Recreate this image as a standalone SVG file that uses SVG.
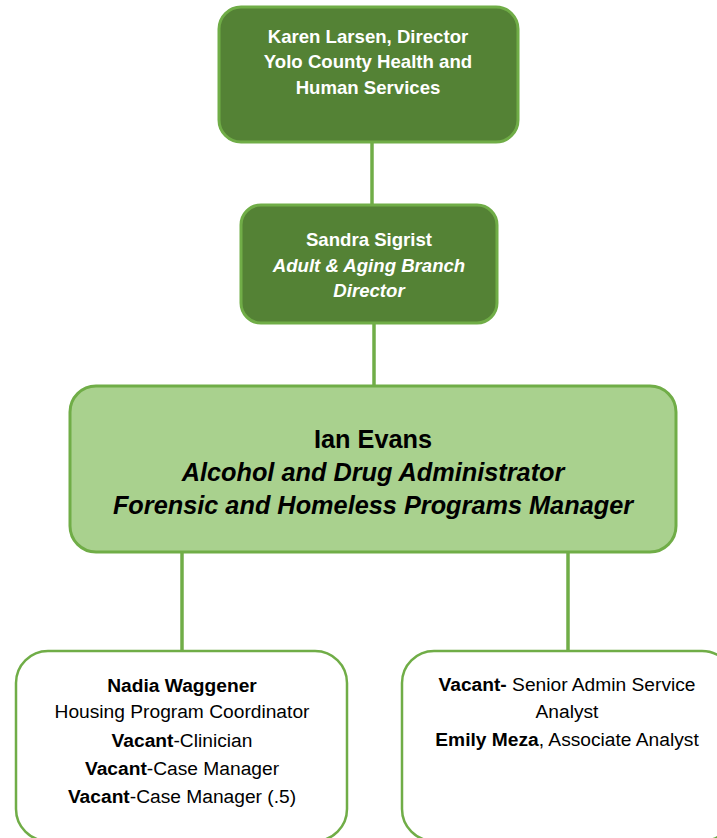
<svg xmlns="http://www.w3.org/2000/svg" width="717" height="838" viewBox="0 0 717 838">
<style>
.dark{fill:#548235;stroke:#70AD47;stroke-width:3}
.light{fill:#A9D18E;stroke:#70AD47;stroke-width:3}
.white{fill:#FFFFFF;stroke:#70AD47;stroke-width:2.5}
.conn{stroke:#70AD47;stroke-width:3.5;fill:none}
text{font-family:"Liberation Sans",Arial,sans-serif;text-anchor:middle}
.wt{fill:#FFFFFF;font-weight:bold;font-size:18.6px}
.bt{fill:#000000;font-weight:bold;font-style:italic;font-size:25.3px}
.st{fill:#000000;font-size:19.2px}
.b{font-weight:bold}
.i{font-style:italic}
.n{font-style:normal}
</style>
<rect width="717" height="838" fill="#FFFFFF"/>
<g id="connectors">
<line class="conn" x1="372" y1="142" x2="372" y2="206"/>
<line class="conn" x1="374" y1="322" x2="374" y2="386"/>
<line class="conn" x1="182" y1="552" x2="182" y2="652"/>
<line class="conn" x1="568" y1="552" x2="568" y2="652"/>
</g>
<g id="karen">
<rect class="dark" x="219" y="7" width="299" height="135" rx="22"/>
<text class="wt" x="368" y="43">Karen Larsen, Director</text>
<text class="wt" x="368" y="68">Yolo County Health and</text>
<text class="wt" x="368" y="94">Human Services</text>
</g>
<g id="sandra">
<rect class="dark" x="241" y="205" width="256" height="118" rx="20"/>
<text class="wt" x="369" y="246">Sandra Sigrist</text>
<text class="wt i" x="369" y="272">Adult &amp; Aging Branch</text>
<text class="wt i" x="369" y="297">Director</text>
</g>
<g id="ian">
<rect class="light" x="70" y="386" width="606" height="166" rx="26"/>
<text class="bt n" x="373" y="448">Ian Evans</text>
<text class="bt" x="373" y="481">Alcohol and Drug Administrator</text>
<text class="bt" x="373" y="514">Forensic and Homeless Programs Manager</text>
</g>
<g id="nadia">
<rect class="white" x="16" y="651" width="331" height="190" rx="32"/>
<text class="st b" x="182" y="692">Nadia Waggener</text>
<text class="st" x="182" y="718">Housing Program Coordinator</text>
<text class="st" x="182" y="747"><tspan class="b">Vacant</tspan>-Clinician</text>
<text class="st" x="182" y="775"><tspan class="b">Vacant</tspan>-Case Manager</text>
<text class="st" x="182" y="803"><tspan class="b">Vacant</tspan>-Case Manager (.5)</text>
</g>
<g id="admin">
<rect class="white" x="402" y="651" width="332" height="190" rx="32"/>
<text class="st" x="567" y="691"><tspan class="b">Vacant-</tspan> Senior Admin Service</text>
<text class="st" x="567" y="718">Analyst</text>
<text class="st" x="567" y="746"><tspan class="b">Emily Meza</tspan>, Associate Analyst</text>
</g>
</svg>
